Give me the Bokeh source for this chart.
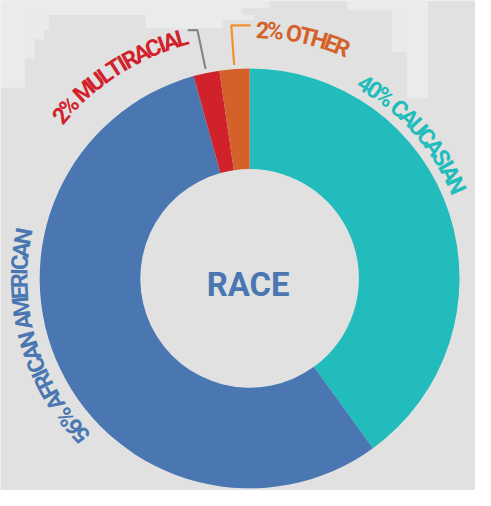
import math
from bokeh.plotting import figure
from bokeh.models import Range1d, ColumnDataSource
from bokeh.core.properties import value
from bokeh.embed import file_html
from bokeh.resources import INLINE

# ---- data ----
categories = ["Caucasian", "African American", "Multiracial", "Other"]
shares = [40.0, 55.7, 2.0, 2.3]
label_texts = ["40% CAUCASIAN", "56% AFRICAN AMERICAN", "2% MULTIRACIAL", "2% OTHER"]
slice_colors = ["#21bcbb", "#4a77b2", "#d1222b", "#d4612a"]
center_title = "RACE"

# ---- layout / style ----
BG = "#e1e1e1"
LIGHT = "#ebebeb"
INNER_R = 113
OUTER_R = 217
label_mid_deg = [41.5, 196.0, 122.5, 77.5]
label_radius = [234, 238, 258, 257]
leader_colors = {"Multiracial": "#7f8b82", "Other": "#f0922c"}
leader_hook = {"Multiracial": -10, "Other": 20}
FONT = "Roboto"
LABEL_PX = 24          # in reference pixels
TITLE_PX = 34
ADV = 0.85             # tight tracking (condensed look)
SCALE = 475 / 491      # reference px -> screen px

# approximate glyph advance widths (em) for Roboto Bold
W = {" ": .248, "%": .733, "A": .660, "C": .652, "E": .564, "F": .549, "H": .711,
     "I": .285, "L": .541, "M": .873, "N": .711, "O": .689, "R": .626, "S": .616,
     "T": .616, "U": .665}
for d in "0123456789":
    W[d] = .562

# reference-pixel -> data coordinates (center of donut at 0,0)
CX, CY = 257.5, 287.0
def px(X, Y):
    return X - CX, CY - Y

p = figure(width=475, height=490, x_range=Range1d(0 - CX, 491 - CX),
           y_range=Range1d(CY - 506, CY - 0), output_backend="svg",
           toolbar_location=None, x_axis_type=None, y_axis_type=None,
           min_border=0, background_fill_color=BG, border_fill_color=BG,
           outline_line_color=None)
p.grid.visible = False

# decorative light background patches (reference pixel boxes)
light_boxes = [(0, 0, 250, 15), (0, 15, 25, 90), (25, 15, 35, 60), (35, 15, 45, 40),
               (45, 15, 50, 30), (150, 15, 230, 29), (230, 15, 262, 20),
               (240, 0, 278, 8), (358, 0, 405, 10), (405, 0, 420, 53),
               (420, 0, 442, 101)]
ql, qr, qt, qb = [], [], [], []
for (x0, y0, x1, y1) in light_boxes:
    a, b = px(x0, y0)
    c, d = px(x1, y1)
    ql.append(a); qr.append(c); qt.append(b); qb.append(d)
p.quad(left=ql, right=qr, top=qt, bottom=qb, fill_color=LIGHT, line_color=None)

# wedges, clockwise from 12 o'clock
total = sum(shares)
starts, ends, mids = [], [], []
cum = 0.0
for s in shares:
    c0 = cum / total
    c1 = (cum + s) / total
    starts.append(math.radians(90 - 360 * c1))
    ends.append(math.radians(90 - 360 * c0))
    mids.append(math.radians(90 - 360 * (c0 + c1) / 2))
    cum += s
src = ColumnDataSource(dict(s=starts, e=ends, c=slice_colors, cat=categories))
p.annular_wedge(x=0, y=0, inner_radius=INNER_R, outer_radius=OUTER_R,
                start_angle="s", end_angle="e", fill_color="c", line_color=None,
                source=src)

# leader lines
for i, cat in enumerate(categories):
    if cat in leader_colors:
        th = mids[i]
        r0, r1 = OUTER_R + 4, OUTER_R + 45
        xs = [r0 * math.cos(th), r1 * math.cos(th), r1 * math.cos(th) + leader_hook[cat]]
        ys = [r0 * math.sin(th), r1 * math.sin(th), r1 * math.sin(th)]
        p.line(xs, ys, line_color=leader_colors[cat], line_width=2.2)

# curved labels (clockwise, tops outward)
label_font_size = f"{LABEL_PX * SCALE:.1f}px"
for i, txt in enumerate(label_texts):
    r = label_radius[i]
    widths = [W.get(ch, .6) * LABEL_PX * ADV for ch in txt]
    L = sum(widths)
    th0 = math.radians(label_mid_deg[i]) + (L / 2) / r
    xs, ys, angs, chars = [], [], [], []
    s = 0.0
    for ch, w in zip(txt, widths):
        th = th0 - (s + w / 2) / r
        s += w
        if ch == " ":
            continue
        xs.append(r * math.cos(th)); ys.append(r * math.sin(th))
        angs.append(th - math.pi / 2); chars.append(ch)
    p.text(x=xs, y=ys, text=chars, angle=angs, text_font=value(FONT),
           text_font_style="bold", text_font_size=label_font_size,
           text_color=slice_colors[i], text_align="center", text_baseline="middle")

# center title
tx, ty = px(256, 293)
p.text(x=[tx], y=[ty], text=[center_title], text_font=value(FONT), text_font_style="bold",
       text_font_size=f"{TITLE_PX * SCALE:.1f}px", text_color=slice_colors[1],
       text_align="center", text_baseline="middle")

open("out.html", "w").write(file_html(p, INLINE))
